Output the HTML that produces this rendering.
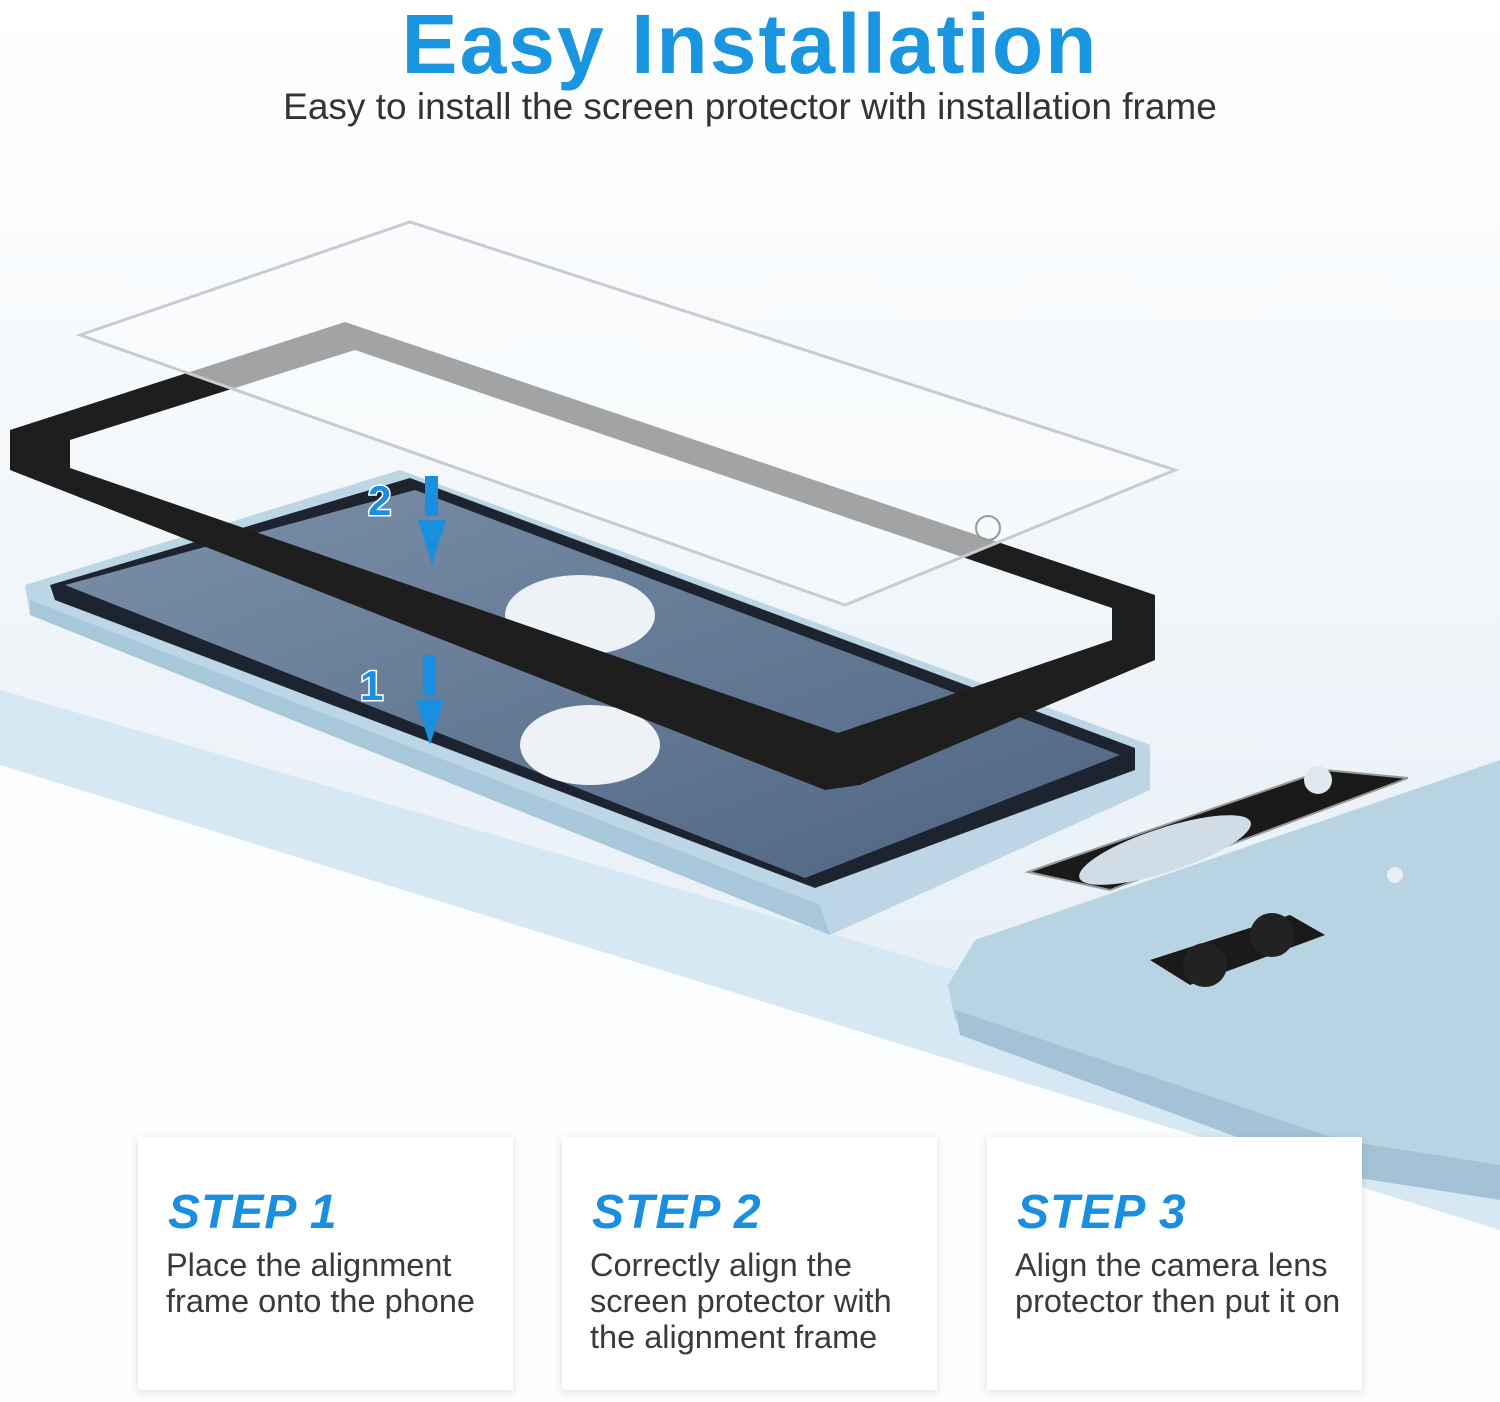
<!DOCTYPE html>
<html><head><meta charset="utf-8"><style>
html,body{margin:0;padding:0}
body{width:1500px;height:1402px;position:relative;overflow:hidden;font-family:"Liberation Sans",sans-serif;background:#fff}
svg{position:absolute;left:0;top:0}
.t{position:absolute;left:0;width:1500px;text-align:center}
.card{position:absolute;top:1137px;width:375px;height:253px;background:#fff;box-shadow:0 2px 8px rgba(0,0,0,.12)}
.card h2{margin:0;position:absolute;left:30px;top:48px;font-size:48px;letter-spacing:1px;font-style:italic;font-weight:bold;color:#1a8fe0}
.card p{margin:0;position:absolute;left:28px;top:110px;font-size:32.5px;line-height:36px;color:#3a3a3a}
</style></head><body>
<svg width="1500" height="1402" viewBox="0 0 1500 1402">
<defs>
<linearGradient id="bg" x1="0" y1="0" x2="0" y2="1"><stop offset="0" stop-color="#fff"/><stop offset="0.5" stop-color="#eef4f9"/><stop offset="1" stop-color="#dfeaf3"/></linearGradient>
<linearGradient id="scr" x1="0" y1="0" x2="1" y2="1"><stop offset="0" stop-color="#7b8fa8"/><stop offset="1" stop-color="#4e6582"/></linearGradient>
</defs>
<rect width="1500" height="1402" fill="url(#bg)"/>
<polygon points="0,690 1500,1130 1500,1402 0,1402" fill="#d6e8f3"/>
<polygon points="0,765 1500,1230 1500,1402 0,1402" fill="#fbfdfe"/>
<!-- main phone -->
<polygon points="25,585 400,470 1150,745 1150,790 830,935 30,615" fill="#bcd6e6"/>
<polygon points="30,600 820,905 830,935 30,615" fill="#a9c7da"/>
<polygon points="50,585 410,478 1135,748 1135,770 815,888 55,600" fill="#1d2430"/>
<polygon points="65,585 415,490 1120,755 805,878" fill="url(#scr)"/>
<ellipse cx="580" cy="615" rx="75" ry="40" fill="#eef2f6"/>
<ellipse cx="590" cy="745" rx="70" ry="40" fill="#eef2f6"/>
<!-- frame -->
<path d="M10,430 L345,322 L1155,595 L1155,660 L860,785 L825,790 L10,470 Z M70,440 L355,350 L1112,608 L1112,640 L838,733 L70,468 Z" fill="#1e1e1e" fill-rule="evenodd"/>
<!-- glass -->
<polygon points="80,335 410,222 1175,470 845,605" fill="rgba(250,252,253,0.6)" stroke="#c8ccd0" stroke-width="3"/>
<circle cx="988" cy="528" r="12" fill="none" stroke="#999" stroke-width="2"/>
<!-- arrows -->
<g fill="#1a8fe0">
<rect x="425" y="476" width="13" height="40"/><polygon points="418,520 446,520 432,565"/>
<rect x="423" y="655" width="13" height="40"/><polygon points="416,700 444,700 430,745"/>
<rect x="1118" y="925" width="13" height="40"/><polygon points="1111,968 1139,968 1125,1015"/>
</g>
<g font-weight="bold" font-size="42" font-family="Liberation Sans">
<text x="368" y="515" fill="#1a8fe0" stroke="#fff" stroke-width="3" paint-order="stroke">2</text>
<text x="360" y="700" fill="#1a8fe0" stroke="#fff" stroke-width="3" paint-order="stroke">1</text>
<text x="1060" y="972" fill="#1a8fe0" stroke="#fff" stroke-width="3" paint-order="stroke">3</text>
</g>
<!-- camera phone -->
<polygon points="975,940 1500,760 1500,1175 1340,1150 955,1020 948,985" fill="#b8d3e2"/>
<polygon points="955,1010 1340,1140 1500,1165 1500,1200 1340,1175 960,1035" fill="#a3c2d6"/>
<polygon points="1150,960 1290,915 1325,935 1190,985" fill="#1a1a1a"/>
<circle cx="1205" cy="965" r="22" fill="#222"/><circle cx="1272" cy="935" r="22" fill="#222"/>
<circle cx="1395" cy="875" r="8" fill="#e8eef2"/>
<!-- lens protector -->
<polygon points="1028,872 1325,770 1408,778 1110,890" fill="#1a1a1a" stroke="#999" stroke-width="2"/>
<ellipse cx="1165" cy="850" rx="90" ry="22" transform="rotate(-18 1165 850)" fill="#d0dde6"/>
<circle cx="1318" cy="780" r="14" fill="#e0e8ee"/>
</svg>
<div class="t" style="top:-4px;font-size:84px;font-weight:bold;color:#1a96e0;letter-spacing:2px">Easy Installation</div>
<div class="t" style="top:86px;font-size:37px;color:#333">Easy to install the screen protector with installation frame</div>
<div class="card" style="left:138px"><h2>STEP 1</h2><p>Place the alignment<br>frame onto the phone</p></div>
<div class="card" style="left:562px"><h2>STEP 2</h2><p>Correctly align the<br>screen protector with<br>the alignment frame</p></div>
<div class="card" style="left:987px"><h2>STEP 3</h2><p>Align the camera lens<br>protector then put it on</p></div>
</body></html>
